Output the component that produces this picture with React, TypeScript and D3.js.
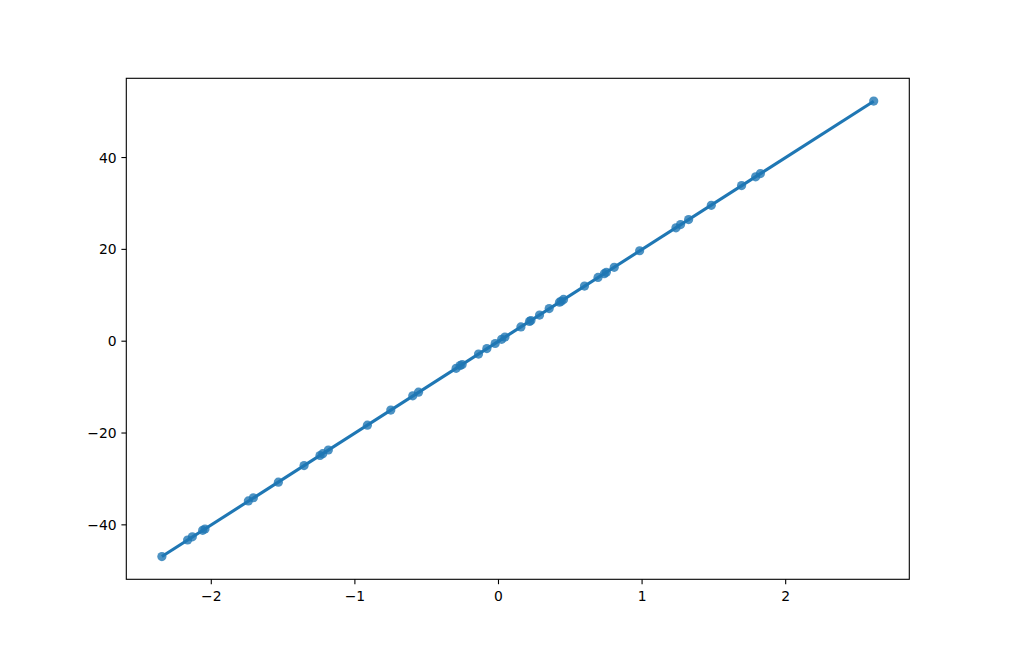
import * as d3 from "d3";
import { useEffect, useRef } from "react";

// Scatter points
const xValues = [
  -2.344, -2.165, -2.132, -2.06, -2.044, -1.742, -1.707, -1.533, -1.354, -1.243,
  -1.224, -1.185, -0.913, -0.75, -0.597, -0.557, -0.295, -0.267, -0.253, -0.139,
  -0.081, -0.023, 0.022, 0.045, 0.156, 0.216, 0.226, 0.286, 0.353, 0.425,
  0.437, 0.453, 0.599, 0.693, 0.737, 0.751, 0.806, 0.983, 1.236, 1.268,
  1.324, 1.482, 1.693, 1.791, 1.824, 2.613,
];
const yValues = [
  -46.9, -43.3, -42.6, -41.2, -40.9, -34.8, -34.1, -30.7, -27.1, -24.9,
  -24.5, -23.7, -18.3, -15.0, -11.9, -11.1, -5.9, -5.3, -5.1, -2.8,
  -1.6, -0.5, 0.4, 0.9, 3.1, 4.3, 4.5, 5.7, 7.1, 8.5,
  8.7, 9.1, 12.0, 13.9, 14.7, 15.0, 16.1, 19.7, 24.7, 25.4,
  26.5, 29.6, 33.9, 35.8, 36.5, 52.3,
];
const xTicks = [-2, -1, 0, 1, 2];
const yTicks = [-40, -20, 0, 20, 40];

const width = 1010;
const height = 651;
const margin = { top: 78.3, right: 100.7, bottom: 71.7, left: 126.3 };
const blue = "#1f77b4";

function padded([lo, hi]: [number, number]): [number, number] {
  const m = (hi - lo) * 0.05;
  return [lo - m, hi + m];
}

export default function App() {
  const svgRef = useRef<SVGSVGElement | null>(null);

  useEffect(() => {
    if (!svgRef.current) return;
    const svg = d3.select(svgRef.current);
    svg.selectAll("*").remove();

    const points = xValues.map((x, i) => ({ x, y: yValues[i] }));

    // least squares fit, like the regression line in the original
    const mx = d3.mean(xValues)!;
    const my = d3.mean(yValues)!;
    const sxy = d3.sum(points, (p) => (p.x - mx) * (p.y - my));
    const sxx = d3.sum(points, (p) => (p.x - mx) ** 2);
    const slope = sxy / sxx;
    const intercept = my - slope * mx;
    const [xMin, xMax] = d3.extent(xValues) as [number, number];
    const fit = [xMin, xMax].map((x) => ({ x, y: intercept + slope * x }));

    const x = d3
      .scaleLinear()
      .domain(padded([xMin, xMax]))
      .range([margin.left, width - margin.right]);
    const y = d3
      .scaleLinear()
      .domain(padded(d3.extent(yValues) as [number, number]))
      .range([height - margin.bottom, margin.top]);

    const fmt = d3.format("d");

    // scatter
    svg
      .append("g")
      .selectAll("circle")
      .data(points)
      .join("circle")
      .attr("cx", (d) => x(d.x))
      .attr("cy", (d) => y(d.y))
      .attr("r", 4.6)
      .attr("fill", blue)
      .attr("fill-opacity", 0.8);

    // regression line
    svg
      .append("path")
      .datum(fit)
      .attr("fill", "none")
      .attr("stroke", blue)
      .attr("stroke-width", 3.1)
      .attr(
        "d",
        d3
          .line<{ x: number; y: number }>()
          .x((d) => x(d.x))
          .y((d) => y(d.y))
      );

    // frame
    svg
      .append("rect")
      .attr("x", margin.left)
      .attr("y", margin.top)
      .attr("width", width - margin.left - margin.right)
      .attr("height", height - margin.top - margin.bottom)
      .attr("fill", "none")
      .attr("stroke", "#000")
      .attr("stroke-width", 1.1);

    const axisBottom = height - margin.bottom;
    const xt = svg.append("g").selectAll("g").data(xTicks).join("g");
    xt.append("line")
      .attr("x1", (d) => x(d))
      .attr("x2", (d) => x(d))
      .attr("y1", axisBottom)
      .attr("y2", axisBottom + 4.9)
      .attr("stroke", "#000")
      .attr("stroke-width", 1.1);
    xt.append("text")
      .attr("x", (d) => x(d))
      .attr("y", axisBottom + 21.2)
      .attr("text-anchor", "middle")
      .attr("font-family", "DejaVu Sans")
      .attr("font-size", 13.9)
      .text((d) => fmt(d));

    const yt = svg.append("g").selectAll("g").data(yTicks).join("g");
    yt.append("line")
      .attr("x1", margin.left - 4.9)
      .attr("x2", margin.left)
      .attr("y1", (d) => y(d))
      .attr("y2", (d) => y(d))
      .attr("stroke", "#000")
      .attr("stroke-width", 1.1);
    yt.append("text")
      .attr("x", margin.left - 9.7)
      .attr("y", (d) => y(d) + 5)
      .attr("text-anchor", "end")
      .attr("font-family", "DejaVu Sans")
      .attr("font-size", 13.9)
      .text((d) => fmt(d));
  }, []);

  return (
    <svg
      ref={svgRef}
      width={width}
      height={height}
      style={{ position: "absolute", left: 0, top: 0, background: "#fff" }}
    />
  );
}
